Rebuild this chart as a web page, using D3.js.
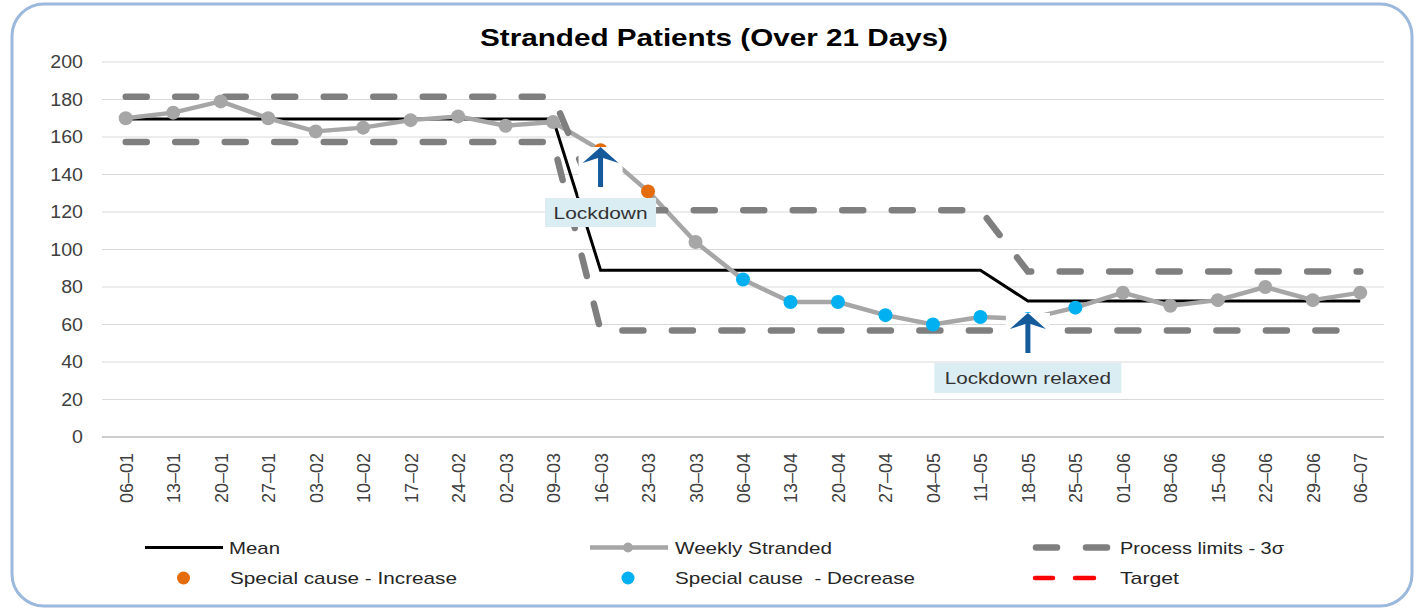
<!DOCTYPE html>
<html>
<head>
<meta charset="utf-8">
<script src="https://cdn.jsdelivr.net/npm/d3@7"></script>
<style>
    html, body { margin: 0; padding: 0; background: #fff; }
    svg { display: block; font-family: "Liberation Sans", Arial, sans-serif; }
</style>
</head>
<body>
<div id="chart"></div>
<script>
// week starting dd-mm
const categories = ['06-01', '13-01', '20-01', '27-01', '03-02', '10-02', '17-02', '24-02', '02-03', '09-03',
    '16-03', '23-03', '30-03', '06-04', '13-04', '20-04', '27-04', '04-05', '11-05', '18-05',
    '25-05', '01-06', '08-06', '15-06', '22-06', '29-06', '06-07'];

const weekly = [170, 173, 179, 170, 163, 165, 169, 171, 166, 168,
    153, 131, 104, 84, 72, 72, 65, 60, 64, 63,
    69, 77, 70, 73, 80, 73, 77];

const mean = [169.6, 169.6, 169.6, 169.6, 169.6, 169.6, 169.6, 169.6, 169.6, 169.6,
    89, 89, 89, 89, 89, 89, 89, 89, 89,
    72.5, 72.5, 72.5, 72.5, 72.5, 72.5, 72.5, 72.5];

const ucl = [181.5, 181.5, 181.5, 181.5, 181.5, 181.5, 181.5, 181.5, 181.5, 181.5,
    121, 121, 121, 121, 121, 121, 121, 121, 121,
    88.3, 88.3, 88.3, 88.3, 88.3, 88.3, 88.3, 88.3];

const lcl = [157.3, 157.3, 157.3, 157.3, 157.3, 157.3, 157.3, 157.3, 157.3, 157.3,
    56.8, 56.8, 56.8, 56.8, 56.8, 56.8, 56.8, 56.8, 56.8,
    56.8, 56.8, 56.8, 56.8, 56.8, 56.8, 56.8, 56.8];

const specialIncrease = ['16-03', '23-03'];
const specialDecrease = ['06-04', '13-04', '20-04', '27-04', '04-05', '11-05', '18-05', '25-05'];

const yTicks = [0, 20, 40, 60, 80, 100, 120, 140, 160, 180, 200];

const events = [
    { at: '16-03', text: 'Lockdown' },
    { at: '18-05', text: 'Lockdown relaxed' }
];

const colors = {
    mean: '#000',
    weekly: '#a6a6a6',
    limits: '#7f7f7f',
    increase: '#e46c0a',
    decrease: '#00b0f0',
    target: '#ff0000',
    arrow: '#155b9c',
    note: '#daedf3',
    text: '#333'
};

const W = 1416, H = 609;
const plot = { left: 102, right: 1384, top: 62, bottom: 437 };

const svg = d3.select('#chart')
    .append('svg')
    .attr('width', W)
    .attr('height', H)
    .attr('viewBox', `0 0 ${W} ${H}`);

// frame
svg.append('rect')
    .attr('x', 12).attr('y', 4)
    .attr('width', 1400).attr('height', 602)
    .attr('rx', 32)
    .attr('fill', '#fff')
    .attr('stroke', '#9bb8dd')
    .attr('stroke-width', 3);

const x = d3.scalePoint().domain(categories).range([plot.left, plot.right]).padding(0.5);
const y = d3.scaleLinear().domain([0, 200]).range([plot.bottom, plot.top]);

// gridlines
svg.append('g')
    .selectAll('line')
    .data(yTicks.filter(d => d > 0))
    .join('line')
    .attr('x1', plot.left).attr('x2', plot.right)
    .attr('y1', d => y(d)).attr('y2', d => y(d))
    .attr('stroke', '#d9d9d9')
    .attr('stroke-width', 1);

// y axis
const yAxis = svg.append('g')
    .attr('transform', `translate(${plot.left},0)`)
    .call(d3.axisLeft(y).tickValues(yTicks).tickSize(0).tickPadding(19));
yAxis.attr('font-family', null).attr('font-size', null);
yAxis.select('.domain').remove();
yAxis.selectAll('text')
    .attr('font-size', 18)
    .attr('fill', '#404040')
    .attr('textLength', d => String(d).length * 10.9)
    .attr('lengthAdjust', 'spacingAndGlyphs');

// x axis
const xAxis = svg.append('g')
    .attr('transform', `translate(0,${plot.bottom})`)
    .call(d3.axisBottom(x).tickSize(0).tickSizeOuter(0).tickFormat(d => d.replace('-', '–')));
xAxis.attr('font-family', null).attr('font-size', null);
xAxis.select('.domain')
    .attr('d', `M${plot.left},0H${plot.right}`)
    .attr('stroke', '#9a9a9a');
xAxis.selectAll('text')
    .attr('transform', 'rotate(-90)')
    .attr('x', -16)
    .attr('y', 0)
    .attr('dy', '0.36em')
    .attr('text-anchor', 'end')
    .attr('font-size', 18)
    .attr('fill', '#404040');

const line = d3.line()
    .x((d, i) => x(categories[i]))
    .y(d => y(d));

svg.append('path')
    .datum(mean)
    .attr('d', line)
    .attr('fill', 'none')
    .attr('stroke', colors.mean)
    .attr('stroke-width', 3);

svg.append('path')
    .datum(weekly)
    .attr('d', line)
    .attr('fill', 'none')
    .attr('stroke', colors.weekly)
    .attr('stroke-width', 4.5)
    .attr('stroke-linejoin', 'round');

[ucl, lcl].forEach(s => {
    svg.append('path')
        .datum(s)
        .attr('d', line)
        .attr('fill', 'none')
        .attr('stroke', colors.limits)
        .attr('stroke-width', 6.5)
        .attr('stroke-linecap', 'round')
        .attr('stroke-dasharray', '21 28.5');
});

function pointColor(c) {
    if (specialIncrease.indexOf(c) > -1) return colors.increase;
    if (specialDecrease.indexOf(c) > -1) return colors.decrease;
    return colors.weekly;
}

svg.append('g')
    .selectAll('circle')
    .data(weekly)
    .join('circle')
    .attr('cx', (d, i) => x(categories[i]))
    .attr('cy', d => y(d))
    .attr('r', 7)
    .attr('fill', (d, i) => pointColor(categories[i]));

// event notes: arrow picture (white backed) + label box
const noteLayout = [
    { tip: 147, bottom: 187, boxBottom: 197, labelTop: 198, labelH: 29, labelW: 111, textW: 94 },
    { tip: 313, bottom: 353, boxBottom: 356, labelTop: 363, labelH: 30, labelW: 187, textW: 166 }
];

events.forEach((ev, i) => {
    const cx = x(ev.at), L = noteLayout[i];
    const g = svg.append('g');
    g.append('rect')
        .attr('x', cx - 22).attr('y', L.tip)
        .attr('width', 44).attr('height', L.boxBottom - L.tip)
        .attr('fill', '#fff');
    g.append('path')
        .attr('d', `M${cx},${L.tip}L${cx + 18},${L.tip + 16}L${cx + 2.5},${L.tip + 11}L${cx + 2.5},${L.bottom}` +
            `L${cx - 2.5},${L.bottom}L${cx - 2.5},${L.tip + 11}L${cx - 18},${L.tip + 16}Z`)
        .attr('fill', colors.arrow);
    g.append('rect')
        .attr('x', cx - L.labelW / 2).attr('y', L.labelTop)
        .attr('width', L.labelW).attr('height', L.labelH)
        .attr('fill', colors.note);
    g.append('text')
        .attr('x', cx).attr('y', L.labelTop + L.labelH / 2 + 6)
        .attr('text-anchor', 'middle')
        .attr('font-size', 16)
        .attr('fill', colors.text)
        .attr('textLength', L.textW)
        .attr('lengthAdjust', 'spacingAndGlyphs')
        .text(ev.text);
});

// legend
const legend = svg.append('g').attr('font-size', 17).attr('fill', '#262626');
const row1 = 547.5, row2 = 578;

legend.append('line').attr('x1', 145).attr('x2', 223).attr('y1', row1).attr('y2', row1)
    .attr('stroke', colors.mean).attr('stroke-width', 3);
legend.append('line').attr('x1', 590).attr('x2', 668).attr('y1', row1).attr('y2', row1)
    .attr('stroke', colors.weekly).attr('stroke-width', 4.5);
legend.append('circle').attr('cx', 628).attr('cy', row1).attr('r', 5).attr('fill', colors.weekly);
[[1036, 1057], [1086, 1107]].forEach(p => {
    legend.append('line').attr('x1', p[0]).attr('x2', p[1]).attr('y1', row1).attr('y2', row1)
        .attr('stroke', colors.limits).attr('stroke-width', 6.5).attr('stroke-linecap', 'round');
});
legend.append('circle').attr('cx', 183.5).attr('cy', row2).attr('r', 6.5).attr('fill', colors.increase);
legend.append('circle').attr('cx', 628).attr('cy', row2).attr('r', 6.5).attr('fill', colors.decrease);
[[1035, 1053], [1075, 1094]].forEach(p => {
    legend.append('line').attr('x1', p[0]).attr('x2', p[1]).attr('y1', row2).attr('y2', row2)
        .attr('stroke', colors.target).attr('stroke-width', 4.5).attr('stroke-linecap', 'round');
});

const legendTexts = [
    { t: 'Mean', x: 229, y: row1, w: 51 },
    { t: 'Weekly Stranded', x: 675, y: row1, w: 157 },
    { t: 'Process limits - 3σ', x: 1120, y: row1, w: 164 },
    { t: 'Special cause - Increase', x: 230, y: row2, w: 227 },
    { t: 'Special cause  - Decrease', x: 675, y: row2, w: 240 },
    { t: 'Target', x: 1120, y: row2, w: 59 }
];
legend.selectAll('text')
    .data(legendTexts)
    .join('text')
    .attr('x', d => d.x)
    .attr('y', d => d.y + 6)
    .attr('textLength', d => d.w)
    .attr('lengthAdjust', 'spacingAndGlyphs')
    .style('white-space', 'pre')
    .text(d => d.t);

// title
svg.append('text')
    .attr('x', 714).attr('y', 46)
    .attr('text-anchor', 'middle')
    .attr('font-size', 24)
    .attr('font-weight', 'bold')
    .attr('fill', '#000')
    .attr('textLength', 468)
    .attr('lengthAdjust', 'spacingAndGlyphs')
    .text('Stranded Patients (Over 21 Days)');
</script>
</body>
</html>
